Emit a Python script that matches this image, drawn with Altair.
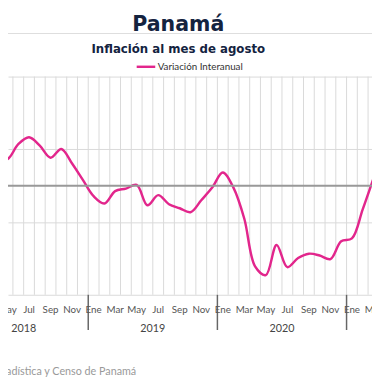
import altair as alt
import pandas as pd

# month index t: 0 = Jan 2019 (start of month); values plotted at mid-month
month_t = list(range(-9, 27))
inflation = [0.75, 0.73, 1.14, 1.33, 1.10, 0.77, 1.01, 0.61, 0.16,
             -0.29, -0.49, -0.15, -0.08, 0.02, -0.54, -0.26, -0.51, -0.62, -0.73, -0.40, -0.06,
             0.36, -0.06, -0.91, -2.22, -2.46, -1.63, -2.24, -1.99, -1.87, -1.92, -2.02, -1.53,
             -1.45, -0.65, 0.20]

label_t = [-8, -6, -4, -2, 0, 2, 4, 6, 8, 10, 12, 14, 16, 18, 20, 22, 24, 26]
label_txt = ["May", "Jul", "Sep", "Nov", "Ene", "Mar", "May", "Jul", "Sep", "Nov",
             "Ene", "Mar", "May", "Jul", "Sep", "Nov", "Ene", "Mar"]
years = ["2018", "2019", "2020"]
year_mid = [-6, 6, 18]
year_start = [0, 12, 24]
grid_t = list(range(-8, 28))
grid_y = [-3, -2, -1, 0, 1, 2, 3]
series_name = "Variación Interanual"
source = "Fuente: Instituto Nacional de Estadística y Censo de Panamá"

W, H = 372, 223
FONT = "Lato"
TFONT = "DejaVu Sans"

line_df = pd.DataFrame({"t": [m + 0.5 for m in month_t], "v": inflation, "s": series_name})
lab_df = pd.DataFrame({"t": [m + 0.5 for m in label_t], "lab": label_txt})
yr_df = pd.DataFrame({"t": year_mid, "lab": years})
sep_df = pd.DataFrame({"t": year_start})
vgrid_df = pd.DataFrame({"t": grid_t})

xscale = alt.Scale(domain=[-82 / 11, 290 / 11], nice=False, zero=False)
yscale = alt.Scale(domain=[-3, 3], nice=False)

vgrid = alt.Chart(vgrid_df).mark_rule(color="#d9d9d9", strokeWidth=1).encode(
    x=alt.X("t:Q", scale=xscale, axis=None), y=alt.value(0), y2=alt.value(H))

line = alt.Chart(line_df).mark_line(interpolate="catmull-rom", strokeWidth=2.5, clip=True).encode(
    x=alt.X("t:Q", scale=xscale, axis=None),
    y=alt.Y("v:Q", scale=yscale,
            axis=alt.Axis(values=grid_y, grid=True, gridColor="#d9d9d9", gridWidth=1,
                          labels=False, ticks=False, domain=False, title=None)),
    color=alt.Color("s:N", scale=alt.Scale(domain=[series_name], range=["#E2268C"]),
                    legend=alt.Legend(title=None, orient="none", legendX=130, legendY=-21,
                                      symbolType="stroke", symbolStrokeWidth=2.5, symbolSize=360,
                                      labelFont=FONT, labelFontSize=10, labelColor="#333333",
                                      labelOffset=1)),
)

zero = alt.Chart(pd.DataFrame({"y": [0]})).mark_rule(color="#999999", strokeWidth=2).encode(
    y=alt.Y("y:Q", scale=yscale))

seps = alt.Chart(sep_df).mark_rule(color="#666666", strokeWidth=1.5).encode(
    x=alt.X("t:Q", scale=xscale), y=alt.value(H), y2=alt.value(H + 36))

mlabels = alt.Chart(lab_df).mark_text(font=FONT, fontSize=10, color="#555555", baseline="middle").encode(
    x=alt.X("t:Q", scale=xscale), y=alt.value(H + 16), text="lab:N")

ylabels = alt.Chart(yr_df).mark_text(font=FONT, fontSize=11, color="#444444", baseline="middle").encode(
    x=alt.X("t:Q", scale=xscale), y=alt.value(H + 35), text="lab:N")

divider = alt.Chart(pd.DataFrame({"a": [0]})).mark_rule(color="#dddddd", strokeWidth=1).encode(
    x=alt.value(0), x2=alt.value(W), y=alt.value(-44))

src = alt.Chart(pd.DataFrame({"txt": [source]})).mark_text(
    font=FONT, fontSize=11, color="#999999", align="right", baseline="middle").encode(
    x=alt.value(131), y=alt.value(302), text="txt:N")

chart = alt.layer(vgrid, divider, line, zero, seps, mlabels, ylabels, src).properties(
    width=W, height=H,
    autosize=alt.AutoSizeParams(type="none"),
    padding={"left": 0, "right": 0, "top": 66, "bottom": 83},
    title=alt.TitleParams(text="Panamá", subtitle="Inflación al mes de agosto",
                          font=TFONT, fontSize=21, fontWeight="bold", color="#14233f",
                          subtitleFont=TFONT, subtitleFontSize=12, subtitleFontWeight="bold",
                          subtitleColor="#14233f", subtitlePadding=9,
                          anchor="middle", frame="group", offset=-22, dx=-12),
).configure_view(strokeWidth=0)

chart.save("out.html", embed_options={"renderer": "svg", "actions": False})
